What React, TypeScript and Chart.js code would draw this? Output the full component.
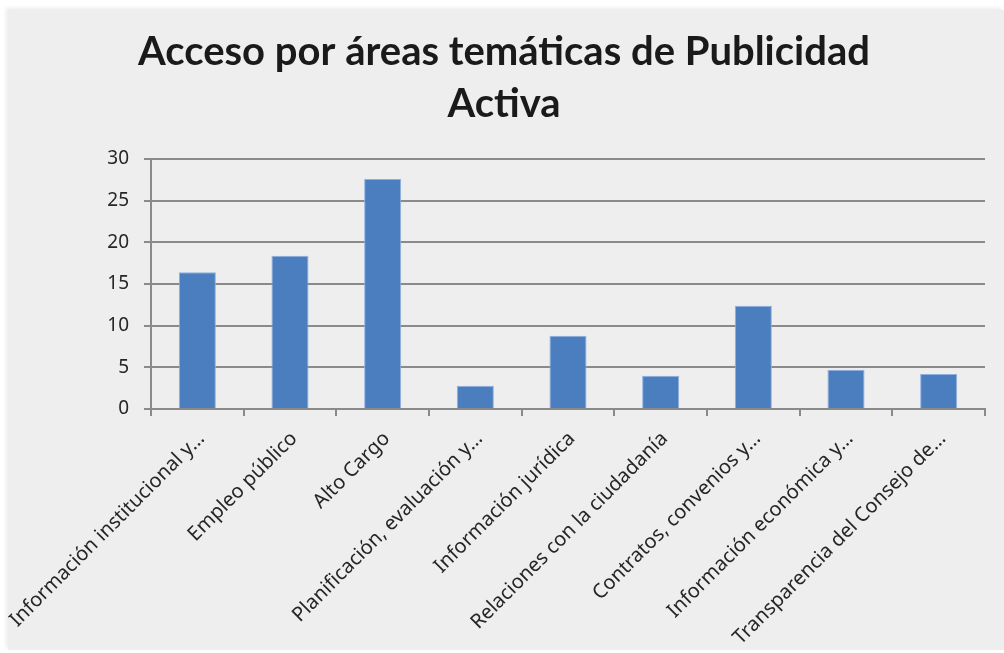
import React, { useEffect, useRef } from "react";
import { Chart, registerables } from "chart.js";

Chart.register(...registerables);

const TITLE_LINES = ["Acceso por áreas temáticas de Publicidad", "Activa"];

const CATEGORIES = [
  "Información institucional y…",
  "Empleo público",
  "Alto Cargo",
  "Planificación, evaluación y…",
  "Información jurídica",
  "Relaciones con la ciudadanía",
  "Contratos, convenios y…",
  "Información económica y…",
  "Transparencia del Consejo de…",
];

const VALUES = [16.4, 18.4, 27.6, 2.8, 8.8, 4.0, 12.4, 4.7, 4.2];

const Y_TICKS = [0, 5, 10, 15, 20, 25, 30];

const GRID = "#8a8a8a";
const TEXT = "#262626";

export default function App() {
  const ref = useRef<HTMLCanvasElement>(null);

  useEffect(() => {
    document.body.style.margin = "0";
    const chart = new Chart(ref.current!, {
      type: "bar",
      data: {
        labels: CATEGORIES,
        datasets: [
          {
            data: VALUES,
            backgroundColor: "#4a7ebf",
            borderColor: "#8fb0de",
            borderWidth: 1,
            barPercentage: 0.4,
            categoryPercentage: 1,
          },
        ],
      },
      options: {
        animation: false,
        responsive: false,
        layout: { padding: { left: 0, right: 4, top: 0, bottom: 0 } },
        plugins: {
          legend: { display: false },
          tooltip: { enabled: false },
          title: {
            display: true,
            text: TITLE_LINES,
            font: { family: "Lato", weight: "bold", size: 40, lineHeight: 1.3 },
            color: "#1a1a1a",
            padding: { top: 16, bottom: 29 },
          },
        },
        scales: {
          x: {
            grid: {
              drawOnChartArea: false,
              color: GRID,
              lineWidth: 2,
              tickLength: 7,
              offset: true,
            },
            border: { color: GRID, width: 2 },
            ticks: {
              autoSkip: false,
              minRotation: 45,
              maxRotation: 45,
              padding: 11,
              labelOffset: 4,
              color: TEXT,
              font: { family: "'Noto Sans'", size: 20 },
            },
            afterFit: (s: any) => {
              s.height = 241;
              s.paddingLeft = 0;
              s.paddingRight = 19;
            },
          },
          y: {
            min: 0,
            max: 30,
            afterBuildTicks: (s: any) => {
              s.ticks = Y_TICKS.map((v) => ({ value: v }));
            },
            grid: { color: GRID, lineWidth: 2, tickLength: 7 },
            border: { color: GRID, width: 2 },
            ticks: {
              padding: 15,
              color: TEXT,
              font: { family: "'Noto Sans'", size: 19 },
            },
            afterFit: (s: any) => {
              s.width = 143;
            },
          },
        },
      },
    });
    return () => chart.destroy();
  }, []);

  return (
    <div
      style={{
        position: "absolute",
        left: 8,
        top: 10,
        width: 996,
        height: 640,
        background: "#edeeed",
        boxShadow: "-2px -2px 4px rgba(0,0,0,0.08)",
      }}
    >
      <canvas ref={ref} width={996} height={640} style={{ display: "block" }} />
    </div>
  );
}
